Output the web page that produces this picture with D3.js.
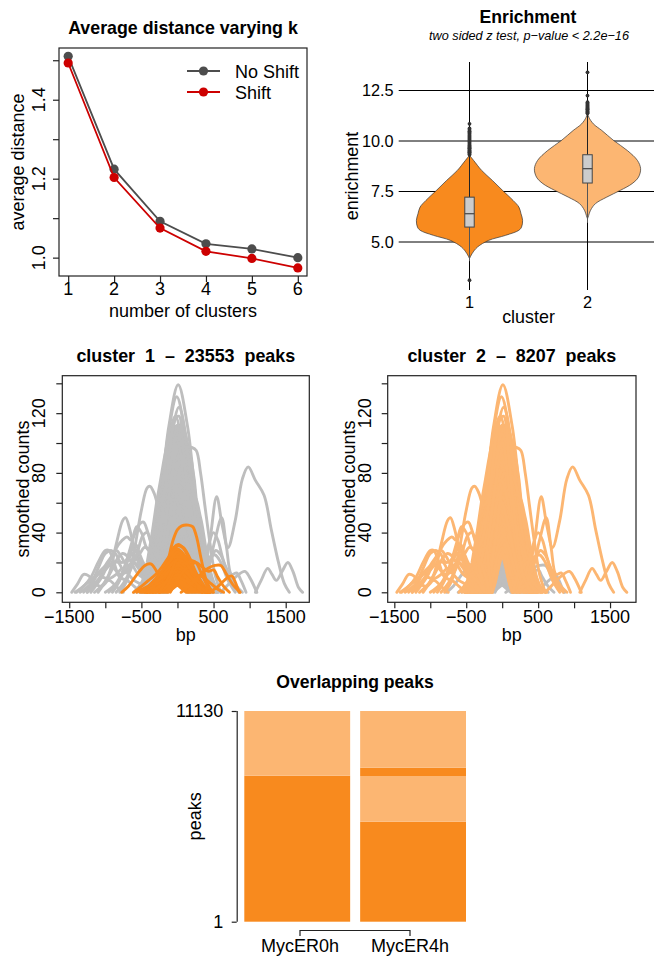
<!DOCTYPE html>
<html><head><meta charset="utf-8">
<script src="https://cdn.jsdelivr.net/npm/d3@7"></script>
<style>
body{margin:0;background:#fff}
text{font-family:"Liberation Sans",Arial,Helvetica,sans-serif;fill:#000}
</style>
</head><body>
<svg id="c" width="654" height="956" xmlns="http://www.w3.org/2000/svg"></svg>
<script>
// ---------------- DATA ----------------
// Panel 1: average distance varying k
const kValues = [1, 2, 3, 4, 5, 6];
const noShiftValues = [1.510, 1.224, 1.092, 1.035, 1.022, 1.000];
const shiftValues = [1.493, 1.203, 1.075, 1.016, 0.998, 0.974];
const p1YTicks = [1.0, 1.1, 1.2, 1.3, 1.4, 1.5];
const p1YLabels = [1.0, 1.2, 1.4];
const legendLabels = ["No Shift", "Shift"];

// Panel 2: enrichment violins (value, relative density)
const clusterIds = [1, 2];
const violinDensity1 = [[4.18,0.0],[4.43,0.05],[4.75,0.15],[5.08,0.36],[5.33,0.68],[5.58,0.93],[5.74,0.98],[6.07,1.0],[6.40,0.97],[6.73,0.93],[7.06,0.82],[7.56,0.62],[8.05,0.43],[8.54,0.23],[9.03,0.08],[9.29,0.0]];
const violinDensity2 = [[6.15,0.0],[6.24,0.013],[6.57,0.057],[6.90,0.15],[7.22,0.36],[7.56,0.62],[7.89,0.84],[8.21,0.96],[8.63,1.0],[9.04,0.94],[9.53,0.75],[10.03,0.49],[10.52,0.27],[10.85,0.11],[11.18,0.025],[11.43,0.0]];
const boxStats = [ // q1, median, q3, lower whisker, upper whisker
  {q1:5.74, med:6.40, q3:7.22, lo:4.05, hi:9.30},
  {q1:7.92, med:8.63, q3:9.32, lo:5.95, hi:11.35}
];
const outliers1 = [3.11, 9.32, 9.36, 9.40, 9.44, 9.48, 9.52, 9.56, 9.60, 9.64, 9.68, 9.72, 9.76, 9.80, 9.85, 9.90, 9.95, 10.0, 10.05, 10.1, 10.15, 10.2, 10.25, 10.3, 10.36, 10.42, 10.48, 10.55, 10.62, 10.85];
const outliers2 = [11.37, 11.41, 11.45, 11.49, 11.53, 11.57, 11.61, 11.65, 11.70, 11.75, 11.80, 11.86, 11.92, 12.25, 13.40];
const p2YTicks = [5.0, 7.5, 10.0, 12.5];

// Panels 3/4: smoothed count profiles (bp, counts)
const bpTicks = [-1500, -1000, -500, 0, 500, 1000, 1500];
const bpLabels = [-1500, -500, 500, 1500];
const countTicks = [0, 20, 40, 60, 80, 100, 120, 140];
const countLabels = [0, 40, 80, 120];
// region densely covered by overlapping cluster-2 profiles (outline, bp/counts)
const cluster2Core = [[-530,0],[-470,8],[-420,20],[-350,40],[-290,60],[-235,75],[-190,88],[-150,98],[-110,106],[-60,110],[0,112],[60,110],[110,106],[150,98],[195,88],[235,75],[265,60],[320,40],[400,20],[470,8],[560,0],[135,0],[0,26],[-135,0]];
// region densely covered by overlapping cluster-1 profiles
const cluster1Core = [[-480,0],[-400,4],[-300,9],[-200,15],[-120,21],[-60,26],[0,28],[60,27],[120,23],[200,17],[280,11],[360,5],[450,0],[120,0],[0,5],[-130,0]];
const cluster2Curves = [
  [[-510,0],[-380,18],[-250,56],[-120,111],[10,139],[140,111],[270,56],[400,18],[530,0]],
  [[-490,0],[-370,17],[-250,52],[-130,105],[-10,131],[110,105],[230,52],[350,17],[470,0]],
  [[-440,0],[-325,16],[-210,50],[-95,99],[20,124],[135,99],[250,50],[365,16],[480,0]],
  [[-480,0],[-367,15],[-255,47],[-142,94],[-30,118],[82,94],[195,47],[307,15],[420,0]],
  [[-400,0],[-290,15],[-180,45],[-70,90],[40,112],[150,90],[260,45],[370,15],[480,0]],
  [[-430,0],[-322,14],[-215,42],[-107,85],[0,106],[107,85],[215,42],[322,14],[430,0]],
  [[-520,0],[-395,13],[-270,40],[-145,80],[-20,100],[105,80],[230,40],[355,13],[480,0]],
  [[-390,0],[-285,12],[-180,38],[-75,75],[30,94],[135,75],[240,38],[345,12],[450,0]],
  [[-500,0],[-385,11],[-270,35],[-155,70],[-40,88],[75,70],[190,35],[305,11],[420,0]],
  [[-390,0],[-290,11],[-190,33],[-90,66],[10,82],[110,66],[210,33],[310,11],[410,0]],
  [[-390,0],[-280,10],[-170,30],[-60,61],[50,76],[160,61],[270,30],[380,10],[490,0]],
  [[-470,0],[-365,9],[-260,28],[-155,56],[-50,70],[55,56],[160,28],[265,9],[370,0]],
  [[-380,0],[-285,8],[-190,26],[-95,51],[0,64],[95,51],[190,26],[285,8],[380,0]],
  [[-340,0],[-240,8],[-140,23],[-40,46],[60,58],[160,46],[260,23],[360,8],[460,0]],
  [[-390,0],[-300,7],[-210,21],[-120,42],[-30,52],[60,42],[150,21],[240,7],[330,0]],
  [[-360,0],[-265,6],[-170,18],[-75,37],[20,46],[115,37],[210,18],[305,6],[400,0]],
  [[-350,0],[-265,5],[-180,16],[-95,32],[-10,40],[75,32],[160,16],[245,5],[330,0]],
  [[-270,0],[-195,5],[-120,14],[-45,28],[30,35],[105,28],[180,14],[255,5],[330,0]],
  [[-240,0],[-180,4],[-120,12],[-60,24],[0,30],[60,24],[120,12],[180,4],[240,0]],
  [[-150,0],[-112,4],[-75,11],[-38,22],[0,27],[38,22],[75,11],[112,4],[150,0]],
  [[-300,0],[-180,25],[-60,65],[40,80],[140,78],[240,62],[340,38],[440,15],[540,3],[600,0]],
  [[-350,0],[-220,20],[-90,50],[60,62],[219,65],[320,50],[400,28],[480,10],[560,0]],
  [[-250,0],[-120,30],[0,58],[120,55],[240,40],[340,22],[440,8],[540,0]],
  [[-200,0],[-80,40],[20,72],[120,60],[220,38],[320,20],[420,8],[520,2],[620,0]],
  [[-600,0],[-480,8],[-360,25],[-240,50],[-120,70],[-20,75],[80,60],[200,30],[320,8],[420,0]],
  [[-560,0],[-440,12],[-320,30],[-220,45],[-120,60],[-30,62],[70,48],[180,22],[300,4],[380,0]],
  [[-420,0],[-250,20],[-100,70],[0,95],[100,97],[200,97],[260,95],[320,80],[380,58],[450,33],[520,12],[600,0]],
  [[200,0],[350,10],[450,35],[543,64],[620,45],[700,30],[800,48],[900,76],[980,84],[1080,75],[1200,65],[1300,42],[1400,20],[1480,6],[1550,0]],
  [[300,0],[420,15],[520,35],[612,50],[680,30],[750,12],[820,13],[880,8],[950,0]],
  [[600,0],[700,5],[800,10],[935,14],[1000,10],[1100,0]],
  [[1080,0],[1160,8],[1250,16],[1310,12],[1370,8],[1450,14],[1530,20],[1600,14],[1680,3],[1734,0]],
  [[150,0],[250,15],[400,22],[520,25],[600,20],[700,8],[800,0]],
  [[250,0],[350,8],[450,20],[530,28],[600,25],[660,18],[740,10],[820,4],[900,0]],
  [[200,0],[320,12],[420,30],[500,40],[560,35],[620,24],[700,12],[780,4],[850,0]],
  [[-1466,0],[-1380,6],[-1300,12],[-1230,11],[-1150,6],[-1050,4],[-950,8],[-850,4],[-750,0]],
  [[-1420,0],[-1300,4],[-1200,10],[-1100,20],[-1000,28],[-950,28],[-880,20],[-800,10],[-700,8],[-600,4],[-500,0]],
  [[-1350,0],[-1200,6],[-1100,16],[-1000,26],[-920,28],[-860,26],[-780,20],[-700,22],[-600,30],[-520,20],[-420,5],[-350,0]],
  [[-1100,0],[-950,12],[-850,32],[-760,48],[-720,50],[-660,42],[-600,30],[-540,25],[-460,30],[-380,28],[-300,12],[-220,0]],
  [[-900,0],[-800,8],[-700,22],[-600,38],[-520,46],[-470,47],[-410,40],[-340,30],[-280,35],[-200,55],[-100,85],[0,100],[100,70],[200,30],[320,5],[400,0]],
  [[-800,0],[-700,8],[-600,28],[-500,55],[-420,70],[-380,71],[-320,66],[-260,58],[-200,62],[-120,90],[-40,115],[20,118],[100,85],[200,40],[300,10],[400,0]],
  [[-1250,0],[-1100,8],[-1000,18],[-900,25],[-800,33],[-700,37],[-640,35],[-565,44],[-500,40],[-430,30],[-350,25],[-280,18],[-200,0]],
  [[-1200,0],[-1050,10],[-950,20],[-850,28],[-780,24],[-700,18],[-600,20],[-500,15],[-400,5],[-300,0]],
  [[-1300,0],[-1200,5],[-1100,12],[-1000,15],[-900,20],[-820,20],[-750,15],[-650,18],[-560,24],[-480,18],[-400,8],[-300,0]],
  [[-1000,0],[-850,6],[-750,15],[-650,28],[-580,32],[-520,25],[-440,18],[-350,22],[-260,15],[-180,0]],
  [[-1400,0],[-1280,5],[-1180,9],[-1080,14],[-980,18],[-900,17],[-800,12],[-700,14],[-620,20],[-540,16],[-450,6],[-380,0]],
  [[-1150,0],[-1020,6],[-920,14],[-840,22],[-760,26],[-690,24],[-620,18],[-540,12],[-460,10],[-380,14],[-300,8],[-240,0]],
  [[-950,0],[-850,5],[-760,12],[-680,22],[-620,26],[-560,22],[-480,14],[-400,10],[-320,6],[-250,0]],
  [[-1250,0],[-1150,6],[-1050,10],[-950,9],[-850,12],[-760,16],[-680,12],[-600,8],[-500,5],[-400,0]],
  [[-850,0],[-750,6],[-650,15],[-560,26],[-480,38],[-420,40],[-360,33],[-300,28],[-230,30],[-180,12],[-140,0]]
];
const cluster1Curves = [
  [[-350,0],[-250,6],[-150,18],[-60,35],[0,42],[60,44.5],[150,45],[210,44],[260,38],[330,22],[400,8],[480,0]],
  [[-420,0],[-280,6],[-150,18],[-50,30],[10,32],[90,29],[170,22],[255,20],[330,13],[420,4],[500,0]],
  [[-300,0],[-200,8],[-100,22],[0,31],[80,30],[160,24],[250,14],[350,5],[450,0]],
  [[-611,0],[-500,4],[-400,8],[-300,12],[-200,18],[-100,25],[0,29],[100,24],[200,14],[300,6],[400,0]],
  [[-773,0],[-680,4],[-560,12],[-450,18],[-370,19],[-300,15],[-230,9],[-160,11],[-80,19],[0,24],[100,20],[200,11],[320,3],[420,0]],
  [[-520,0],[-400,4],[-300,9],[-200,15],[-100,21],[0,27],[100,22],[200,13],[320,5],[420,0]],
  [[-450,0],[-320,5],[-180,13],[-80,19],[0,22],[100,18],[220,10],[330,4],[450,0]],
  [[-380,0],[-250,5],[-120,13],[0,19],[110,15],[240,7],[380,0]],
  [[-500,0],[-360,3],[-220,8],[-100,13],[0,16],[120,13],[260,6],[400,0]],
  [[-330,0],[-200,5],[-90,11],[0,14],[100,11],[220,5],[340,0]],
  [[-420,0],[-280,3],[-140,7],[0,10],[140,7],[280,3],[420,0]],
  [[-250,0],[-140,5],[-50,14],[20,20],[100,17],[200,9],[300,2],[350,0]],
  [[-565,0],[-450,3],[-330,6],[-200,10],[-80,16],[20,18],[150,12],[300,4],[420,0]],
  [[50,0],[180,5],[300,11],[420,16],[520,18],[600,18],[680,12],[770,5],[870,0]],
  [[430,0],[540,3],[650,8],[750,11],[800,7],[840,2],[860,0]],
  [[-100,0],[50,12],[180,18],[255,20],[340,17],[430,14],[500,15],[560,10],[640,4],[720,0]],
  [[-250,0],[-100,12],[0,22],[120,19],[240,12],[360,10],[460,6],[560,2],[640,0]]
];

// Panel 5: overlapping peaks (segments stacked bottom -> top)
const samples = ["MycER0h", "MycER4h"];
const segments0h = [{cls:"dark", n:7712}, {cls:"light", n:3417}];
const segments4h = [{cls:"dark", n:5282}, {cls:"light", n:2414}, {cls:"dark", n:438}, {cls:"light", n:2995}];
const peakRange = [1, 11130];

// ---------------- STYLE ----------------
const DARK_OR = "#F88A1E", LIGHT_OR = "#FCB672", GRAY = "#BEBEBE";
const AX = "#222";
const svg = d3.select("#c");

function txt(g, x, y, s, size, opts = {}) {
  const t = g.append("text").attr("x", x).attr("y", y).text(s)
    .attr("font-size", size).attr("text-anchor", opts.anchor || "middle");
  if (opts.bold) t.attr("font-weight", "bold");
  if (opts.italic) t.attr("font-style", "italic");
  if (opts.rotate) t.attr("transform", `rotate(-90,${x},${y})`);
  if (opts.dy) t.attr("dy", opts.dy);
  if (opts.pre) t.style("white-space", "pre");
  return t;
}
function styleAxis(g) {
  g.select(".domain").remove();
  g.selectAll("line").attr("stroke", AX).attr("stroke-width", 1.2);
  g.selectAll("text").remove();
}
const minus = v => String(v).replace("-", "\u2212");

// ---------------- PANEL 1 ----------------
{
  const P = {l:59, r:307, t:48, b:276};
  const x = d3.scaleLinear().domain([0.8, 6.2]).range([P.l, P.r]);
  const y = d3.scaleLinear().domain([0.9535, 1.531]).range([P.b, P.t]);
  const g = svg.append("g");
  g.append("g").attr("transform", `translate(0,${P.b})`)
    .call(d3.axisBottom(x).tickValues(kValues).tickSize(6)).call(styleAxis);
  g.append("g").attr("transform", `translate(${P.l},0)`)
    .call(d3.axisLeft(y).tickValues(p1YTicks).tickSize(6)).call(styleAxis);
  g.append("rect").attr("x", P.l).attr("y", P.t).attr("width", P.r - P.l).attr("height", P.b - P.t)
    .attr("fill", "none").attr("stroke", AX).attr("stroke-width", 1.2);
  kValues.forEach(k => txt(g, x(k), 295, k, 18));
  p1YLabels.forEach(v => txt(g, 45, y(v), d3.format(".1f")(v), 18, {rotate:true}));
  txt(g, (P.l + P.r) / 2, 317, "number of clusters", 18);
  txt(g, 24, (P.t + P.b) / 2, "average distance", 18, {rotate:true});
  txt(g, (P.l + P.r) / 2, 34, "Average distance varying k", 17.8, {bold:true});
  const series = [{vals:noShiftValues, col:"#4D4D4D"}, {vals:shiftValues, col:"#CD0000"}];
  const line = d3.line().x((d, i) => x(kValues[i])).y(d => y(d));
  series.forEach(s => {
    g.append("path").attr("d", line(s.vals)).attr("fill", "none").attr("stroke", s.col).attr("stroke-width", 1.8);
    g.selectAll(null).data(s.vals).join("circle").attr("cx", (d, i) => x(kValues[i])).attr("cy", d => y(d))
      .attr("r", 4.6).attr("fill", s.col);
  });
  legendLabels.forEach((lab, i) => {
    const ly = 71 + i * 21, col = series[i].col;
    g.append("line").attr("x1", 187).attr("x2", 220).attr("y1", ly).attr("y2", ly).attr("stroke", col).attr("stroke-width", 1.8);
    g.append("circle").attr("cx", 203.5).attr("cy", ly).attr("r", 4.6).attr("fill", col);
    txt(g, 235, ly + 6.5, lab, 18, {anchor:"start"});
  });
}

// ---------------- PANEL 2 ----------------
{
  const P = {l:398.7, r:658.3, t:62, b:290};
  const x = d3.scaleLinear().domain([0.4, 2.6]).range([P.l, P.r]);
  const y = d3.scaleLinear().domain([2.624, 13.911]).range([P.b, P.t]);
  const unit = x(2) - x(1);
  const w = d3.scaleLinear().domain([0, 1]).range([0, 0.45 * unit]);
  const g = svg.append("g");
  g.selectAll(null).data(p2YTicks).join("line")
    .attr("x1", P.l).attr("x2", P.r).attr("y1", d => y(d)).attr("y2", d => y(d))
    .attr("stroke", "#000").attr("stroke-width", 1);
  g.selectAll(null).data(clusterIds).join("line")
    .attr("x1", d => x(d)).attr("x2", d => x(d)).attr("y1", P.t).attr("y2", P.b)
    .attr("stroke", "#000").attr("stroke-width", 1);
  const dens = [violinDensity1, violinDensity2];
  const fills = [DARK_OR, LIGHT_OR];
  const outs = [outliers1, outliers2];
  clusterIds.forEach((c, i) => {
    const cx = x(c);
    const area = d3.area().curve(d3.curveCatmullRom.alpha(0.5))
      .y(d => y(d[0])).x0(d => cx - w(d[1])).x1(d => cx + w(d[1]));
    g.append("path").attr("d", area(dens[i])).attr("fill", fills[i])
      .attr("stroke", "#333").attr("stroke-width", 0.7);
    const b = boxStats[i];
    const bw = 0.04 * unit;
    g.append("line").attr("x1", cx).attr("x2", cx).attr("y1", y(b.q3)).attr("y2", y(b.hi)).attr("stroke", "#222").attr("stroke-width", 1);
    g.append("line").attr("x1", cx).attr("x2", cx).attr("y1", y(b.q1)).attr("y2", y(b.lo)).attr("stroke", "#555").attr("stroke-width", 1);
    g.append("rect").attr("x", cx - bw).attr("width", 2 * bw).attr("y", y(b.q3)).attr("height", y(b.q1) - y(b.q3))
      .attr("fill", "#CCCCCC").attr("stroke", "#444").attr("stroke-width", 1);
    g.append("line").attr("x1", cx - bw).attr("x2", cx + bw).attr("y1", y(b.med)).attr("y2", y(b.med)).attr("stroke", "#444").attr("stroke-width", 1.2);
    g.selectAll(null).data(outs[i]).join("circle").attr("cx", cx).attr("cy", d => y(d)).attr("r", 1.9).attr("fill", "#333");
  });
  p2YTicks.forEach(v => txt(g, 393.7, y(v), d3.format(".1f")(v), 16.3, {anchor:"end", dy:"0.36em"}));
  clusterIds.forEach(c => txt(g, x(c), 308.3, c, 16.3));
  txt(g, 528.5, 323.3, "cluster", 17.9);
  txt(g, 358, (P.t + P.b) / 2, "enrichment", 17.9, {rotate:true});
  txt(g, 528, 23.3, "Enrichment", 17.6, {bold:true});
  txt(g, 529, 40.3, "two sided z test, p\u2212value < 2.2e\u221216", 12.7, {italic:true});
}

// ---------------- PANELS 3 & 4 ----------------
function profilePanel(P, xDomain, title, under, underCore, underCol, over, overCore, overCol) {
  const x = d3.scaleLinear().domain(xDomain).range([P.l, P.r]);
  const y = d3.scaleLinear().domain([-6.7, 145.1]).range([P.b, P.t]);
  const g = svg.append("g");
  const line = d3.line().curve(d3.curveCatmullRom.alpha(0.5)).x(d => x(d[0])).y(d => y(d[1]));
  const poly = d3.line().curve(d3.curveLinearClosed).x(d => x(d[0])).y(d => y(d[1]));
  const drawCore = (pts, col) => g.append("path").attr("d", poly(pts)).attr("fill", col)
    .attr("stroke", col).attr("stroke-width", 2.9).attr("stroke-linejoin", "round");
  const draw = (curves, col) => g.append("g").selectAll("path").data(curves).join("path")
    .attr("d", line).attr("fill", "none").attr("stroke", col).attr("stroke-width", 2.9)
    .attr("stroke-linecap", "round").attr("stroke-linejoin", "round");
  drawCore(underCore, underCol);
  draw(under, underCol);
  drawCore(overCore, overCol);
  draw(over, overCol);
  g.append("g").attr("transform", `translate(0,${P.b})`)
    .call(d3.axisBottom(x).tickValues(bpTicks).tickSize(6)).call(styleAxis);
  g.append("g").attr("transform", `translate(${P.l},0)`)
    .call(d3.axisLeft(y).tickValues(countTicks).tickSize(6)).call(styleAxis);
  g.append("rect").attr("x", P.l).attr("y", P.t).attr("width", P.r - P.l).attr("height", P.b - P.t)
    .attr("fill", "none").attr("stroke", AX).attr("stroke-width", 1.2);
  bpLabels.forEach(v => txt(g, x(v), 623.3, minus(v), 18));
  countLabels.forEach(v => txt(g, P.l - 17, y(v), v, 18, {rotate:true}));
  txt(g, (P.l + P.r) / 2, 641, "bp", 18);
  txt(g, P.l - 33, (P.t + P.b) / 2, "smoothed counts", 18, {rotate:true});
  txt(g, (P.l + P.r) / 2, 362, title, 17.9, {bold:true, pre:true});
}
profilePanel({l:62.3, r:309.3, t:375.7, b:602.3}, [-1596, 1827], "cluster  1  \u2013  23553  peaks",
  cluster2Curves, cluster2Core, GRAY, cluster1Curves, cluster1Core, DARK_OR);
profilePanel({l:387.7, r:636, t:375.7, b:602.3}, [-1592, 1861], "cluster  2  \u2013  8207  peaks",
  cluster1Curves, cluster1Core, GRAY, cluster2Curves, cluster2Core, LIGHT_OR);

// ---------------- PANEL 5 ----------------
{
  const P = {l:244.3, r:466, t:711, b:921.7};
  const x = d3.scaleBand().domain(samples).range([P.l, P.r]).paddingInner(0.0863);
  const y = d3.scaleLinear().domain(peakRange).range([P.b, P.t]);
  const g = svg.append("g");
  [segments0h, segments4h].forEach((segs, i) => {
    let acc = peakRange[0];
    segs.forEach(s => {
      const y0 = acc, y1 = acc + s.n; acc = y1;
      g.append("rect").attr("x", x(samples[i])).attr("width", x.bandwidth())
        .attr("y", y(y1)).attr("height", y(y0) - y(y1))
        .attr("fill", s.cls === "dark" ? DARK_OR : LIGHT_OR);
    });
  });
  const ya = g.append("g").attr("transform", "translate(236.7,0)")
    .call(d3.axisLeft(y).tickValues(peakRange).tickSize(5));
  ya.select(".domain").attr("stroke", AX).attr("stroke-width", 1.2).attr("d", `M0.5,${y(peakRange[1])}V${y(peakRange[0])}`);
  ya.selectAll("line").attr("stroke", AX).attr("stroke-width", 1.2);
  ya.selectAll("text").remove();
  peakRange.forEach(v => txt(g, 223.3, y(v), v, 18, {anchor:"end", dy:"0.36em"}));
  txt(g, 201, (P.t + P.b) / 2, "peaks", 18, {rotate:true});
  txt(g, 355, 687.7, "Overlapping peaks", 17.6, {bold:true});
  const lx = d3.scalePoint().domain(samples).range([300, 410]);
  g.append("path").attr("d", `M${lx(samples[0])},936V930.5H${lx(samples[1])}V936`)
    .attr("fill", "none").attr("stroke", AX).attr("stroke-width", 1.2);
  samples.forEach(s => txt(g, lx(s), 951.5, s, 18));
}
</script>
</body></html>
